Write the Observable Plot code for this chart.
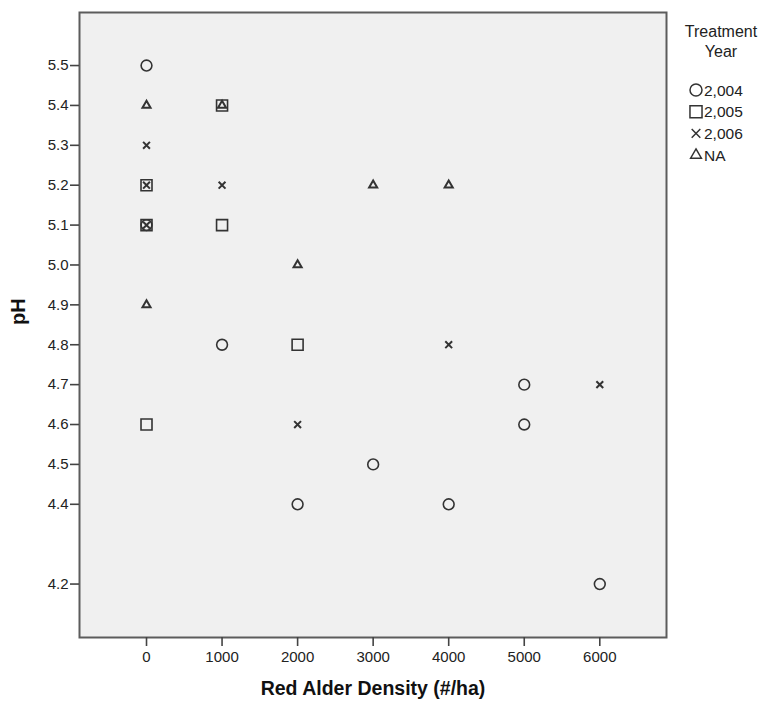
<!DOCTYPE html>
<html><head><meta charset="utf-8">
<script src="https://cdn.jsdelivr.net/npm/d3@7"></script>
<script src="https://cdn.jsdelivr.net/npm/@observablehq/plot@0.6"></script>
<style>
body{margin:0;background:#fff;}
#wrap{position:relative;width:765px;height:707px;}
#legend{position:absolute;left:0;top:0;}
</style></head><body><div id="wrap"></div>
<script>
// Legend categories
const years = ["2,004", "2,005", "2,006", "NA"];

// Series: Red Alder Density (#/ha) and pH by treatment year
const density2004 = [0, 0, 1000, 2000, 3000, 4000, 5000, 5000, 6000];
const ph2004      = [5.5, 5.1, 4.8, 4.4, 4.5, 4.4, 4.7, 4.6, 4.2];
const density2005 = [0, 0, 0, 1000, 1000, 2000];
const ph2005      = [5.2, 5.1, 4.6, 5.4, 5.1, 4.8];
const density2006 = [0, 0, 0, 1000, 2000, 4000, 6000];
const ph2006      = [5.3, 5.2, 5.1, 5.2, 4.6, 4.8, 4.7];
const densityNA   = [0, 0, 1000, 2000, 3000, 4000];
const phNA        = [5.4, 4.9, 5.4, 5.0, 5.2, 5.2];

// Tick labels (the reference skips 4.3)
const xTicks = [0, 1000, 2000, 3000, 4000, 5000, 6000];
const yTicks = [4.2, 4.4, 4.5, 4.6, 4.7, 4.8, 4.9, 5.0, 5.1, 5.2, 5.3, 5.4, 5.5];

const xLabel = "Red Alder Density (#/ha)";
const yLabel = "pH";
const legendTitle = ["Treatment", "Year"];

const series = [
  {year: years[0], xs: density2004, ys: ph2004},
  {year: years[1], xs: density2005, ys: ph2005},
  {year: years[2], xs: density2006, ys: ph2006},
  {year: years[3], xs: densityNA, ys: phNA}
];
const rows = series.flatMap(s => s.xs.map((d, i) => ({density: d, ph: s.ys[i], year: s.year})));

const symStyle = {
  "2,004": {symbol: "circle", r: 5.4, strokeWidth: 1.6},
  "2,005": {symbol: "square", r: 6.2, strokeWidth: 1.6},
  "2,006": {symbol: "times", r: 3.2, strokeWidth: 2},
  "NA":    {symbol: "triangle", r: 3.0, strokeWidth: 2}
};

const font = '"Liberation Sans", Arial, sans-serif';

const chart = Plot.plot({
  width: 765,
  height: 707,
  marginLeft: 79,
  marginRight: 99,
  marginTop: 12,
  marginBottom: 70,
  style: {fontFamily: font, fontSize: "15px", color: "#222", background: "#fff"},
  x: {domain: [-887, 6883]},
  y: {domain: [4.066, 5.633]},
  marks: [
    Plot.frame({fill: "#f0f0f0", stroke: null}),
    ...years.map(yr => Plot.dot(rows.filter(d => d.year === yr), {
      x: "density", y: "ph",
      symbol: symStyle[yr].symbol, r: symStyle[yr].r,
      stroke: "#333", strokeWidth: symStyle[yr].strokeWidth, fill: "none"
    })),
    Plot.frame({stroke: "#5c5c5c", strokeWidth: 2}),
    Plot.axisX({ticks: xTicks, tickFormat: d => String(d), tickSize: 9, tickPadding: 5, label: null, stroke: "#444", strokeWidth: 1.6}),
    Plot.axisY({ticks: yTicks, tickFormat: d3.format(".1f"), tickSize: 9, tickPadding: 2, label: null, stroke: "#444", strokeWidth: 1.6}),
    Plot.text([xLabel], {frameAnchor: "bottom", dy: 57, text: d => d, fontWeight: "bold", fontSize: 19.5, fill: "#111"}),
    Plot.text([yLabel], {frameAnchor: "left", dx: -61, text: d => d, rotate: -90, fontWeight: "bold", fontSize: 20, fill: "#111"})
  ]
});

const wrap = document.getElementById("wrap");
wrap.appendChild(chart);

// Legend (placed beside the plot)
const lg = d3.create("svg").attr("id", "legend").attr("width", 765).attr("height", 707)
  .style("font-family", font).style("pointer-events", "none");
lg.append("text").attr("x", 721).attr("y", 37).attr("text-anchor", "middle")
  .attr("font-size", 16).attr("fill", "#222").text(legendTitle[0]);
lg.append("text").attr("x", 721).attr("y", 57).attr("text-anchor", "middle")
  .attr("font-size", 16).attr("fill", "#222").text(legendTitle[1]);
const d3sym = {circle: d3.symbolCircle, square: d3.symbolSquare, times: d3.symbolTimes, triangle: d3.symbolTriangle};
const legR = {circle: 6, square: 6.8, times: 4, triangle: 4};
years.forEach((yr, i) => {
  const cy = 90 + i * 21.7;
  const name = symStyle[yr].symbol;
  lg.append("path")
    .attr("transform", `translate(696,${cy})`)
    .attr("d", d3.symbol(d3sym[name], Math.PI * legR[name] * legR[name])())
    .attr("fill", "none").attr("stroke", "#333").attr("stroke-width", 1.5);
  lg.append("text").attr("x", 704).attr("y", cy + 5.5).attr("font-size", 15.5)
    .attr("fill", "#222").text(yr);
});
wrap.appendChild(lg.node());
</script>
</body></html>
